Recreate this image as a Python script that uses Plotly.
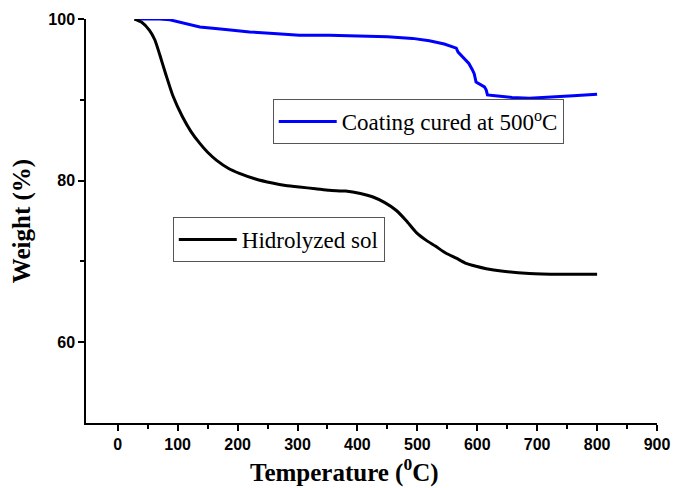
import plotly.graph_objects as go

# Hidrolyzed sol (black)
temp_sol = [28, 40, 53, 62, 70, 80, 92, 108, 122, 137, 150, 165, 185, 203, 230, 258, 280, 303, 330, 353, 380, 405, 425, 445, 465, 482, 498, 515, 530, 548, 565, 580, 598, 615, 640, 687, 740, 800]
weight_sol = [100, 99.6, 98.6, 97.4, 95.6, 93.2, 90.5, 87.9, 86.1, 84.6, 83.5, 82.5, 81.5, 80.9, 80.2, 79.7, 79.4, 79.2, 79.0, 78.8, 78.7, 78.4, 78.0, 77.3, 76.3, 75.0, 73.6, 72.6, 71.9, 71.0, 70.4, 69.8, 69.4, 69.1, 68.8, 68.5, 68.4, 68.4]

# Coating cured at 500 C (blue)
temp_coat = [28, 50, 70, 87, 110, 137, 180, 220, 260, 303, 353, 400, 450, 492, 520, 545, 565, 568, 573, 578, 582, 586, 592, 595, 598, 605, 612, 615, 617, 630, 658, 687, 720, 760, 800]
weight_coat = [100, 100, 100, 99.9, 99.5, 99.0, 98.7, 98.4, 98.2, 98.0, 98.0, 97.9, 97.8, 97.6, 97.3, 96.9, 96.4, 95.9, 95.5, 95.2, 94.9, 94.5, 93.7, 93.2, 92.2, 91.9, 91.6, 91.2, 90.6, 90.5, 90.3, 90.2, 90.3, 90.5, 90.7]

fig = go.Figure()
fig.add_trace(go.Scatter(x=temp_coat, y=weight_coat, mode="lines",
                         line=dict(color="#0000ff", width=3),
                         name="Coating cured at 500<sup>o</sup>C", legend="legend"))
fig.add_trace(go.Scatter(x=temp_sol, y=weight_sol, mode="lines",
                         line=dict(color="#000000", width=3, shape="spline", smoothing=0.5),
                         name="Hidrolyzed sol", legend="legend2"))

legend_common = dict(bgcolor="white", bordercolor="#555555", borderwidth=1,
                     font=dict(family="Liberation Serif", size=23, color="black"),
                     xanchor="left", yanchor="top", itemwidth=58,
                     tracegroupgap=0)

# page body has an 8px margin, so the figure is sized to fit the window
fig.update_layout(
    width=676, height=480,
    margin=dict(l=78, r=27, t=11, b=65, autoexpand=False),
    plot_bgcolor="white", paper_bgcolor="white",
    showlegend=True,
    legend=dict(x=0.327, y=0.802, **legend_common),
    legend2=dict(x=0.152, y=0.510, **legend_common),
    xaxis=dict(range=[-53, 900], tickvals=[0, 100, 200, 300, 400, 500, 600, 700, 800, 900],
               automargin=False,
               ticks="outside", ticklen=6, tickwidth=1.5, tickcolor="black",
               showline=True, linecolor="black", linewidth=1.5, showgrid=False, zeroline=False,
               minor=dict(tickvals=[50, 150, 250, 350, 450, 550, 650, 750, 850], ticks="outside", ticklen=4, tickcolor="black", tickwidth=1.5),
               tickfont=dict(family="Liberation Sans", size=16, color="black", weight="bold")),
    yaxis=dict(range=[50, 100], tickvals=[60, 80, 100],
               automargin=False,
               ticks="outside", ticklen=6, tickwidth=1.5, tickcolor="black",
               showline=True, linecolor="black", linewidth=1.5, showgrid=False, zeroline=False,
               minor=dict(tickvals=[70, 90], ticks="outside", ticklen=4, tickcolor="black", tickwidth=1.5),
               tickfont=dict(family="Liberation Sans", size=16, color="black", weight="bold"),
               title=dict(text="Weight (%)", standoff=14,
                          font=dict(family="Liberation Serif", size=25, color="black", weight="bold"))),
    annotations=[dict(text="Temperature (<sup>0</sup>C)", xref="paper", yref="paper",
                      x=0.452, y=-0.118, xanchor="center", yanchor="middle", showarrow=False,
                      font=dict(family="Liberation Serif", size=25, color="black", weight="bold"))],
)

fig.write_html("out.html")
